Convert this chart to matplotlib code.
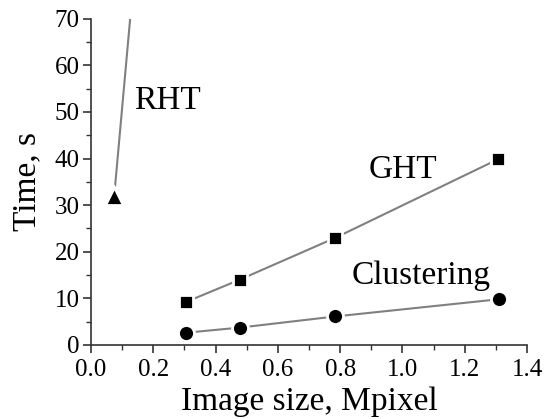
import matplotlib
matplotlib.use('Agg')
import matplotlib.pyplot as plt
from matplotlib.ticker import MultipleLocator

plt.rcParams['font.family'] = 'serif'
plt.rcParams['font.serif'] = ['Liberation Serif', 'DejaVu Serif']
plt.rcParams['xtick.labelsize'] = 18
plt.rcParams['ytick.labelsize'] = 18

# data
size_ght = [0.305, 0.478, 0.785, 1.308]
time_ght = [9.2, 14.0, 23.0, 39.9]
size_clu = [0.305, 0.478, 0.785, 1.311]
time_clu = [2.6, 3.7, 6.1, 9.8]
size_rht = [0.075, 0.305]
time_rht = [32.0, 203.0]

fig = plt.figure(figsize=(5.44, 4.19), dpi=100)
ax = fig.add_axes([0.167, 0.177, 0.802, 0.778])

line_kw = dict(color='#808080', lw=1.5, mfc='black', mec='white', mew=2.0)
ax.plot(size_ght, time_ght, marker='s', ms=10.5, **line_kw)
ax.plot(size_clu, time_clu, marker='o', ms=11.5, **line_kw)
ax.plot(size_rht, time_rht, marker='^', ms=12.5, **line_kw)

ax.text(0.14, 52.5, 'RHT', fontsize=24, va='center', ha='left')
ax.text(1.0, 37.5, 'GHT', fontsize=24, va='center', ha='center')
ax.text(1.06, 14.8, 'Clustering', fontsize=24, va='center', ha='center')

ax.set_xlim(0, 1.4)
ax.set_ylim(0, 70)
ax.xaxis.set_major_locator(MultipleLocator(0.2))
ax.xaxis.set_minor_locator(MultipleLocator(0.1))
ax.yaxis.set_major_locator(MultipleLocator(10))
ax.yaxis.set_minor_locator(MultipleLocator(5))
ax.xaxis.set_major_formatter(lambda v, pos: f'{v:.1f}')

for s in ['top', 'right']:
    ax.spines[s].set_visible(False)
for s in ['left', 'bottom']:
    ax.spines[s].set_linewidth(1.2)
    ax.spines[s].set_color('#333333')
ax.tick_params(which='major', length=6, width=1.2, color='#333333')
ax.tick_params(axis='x', which='major', pad=4)
ax.tick_params(axis='y', which='major', pad=2)
ax.tick_params(which='minor', length=3.5, width=1.0, color='#333333')
for lab in ax.get_xticklabels() + ax.get_yticklabels():
    lab.set_fontfamily('Liberation Serif')
    lab.set_fontsize(18)

ax.set_xlabel('Image size, Mpixel', fontsize=24, labelpad=4)
ax.set_ylabel('Time, s', fontsize=24, labelpad=9)

fig.savefig('out.png', dpi=100)
